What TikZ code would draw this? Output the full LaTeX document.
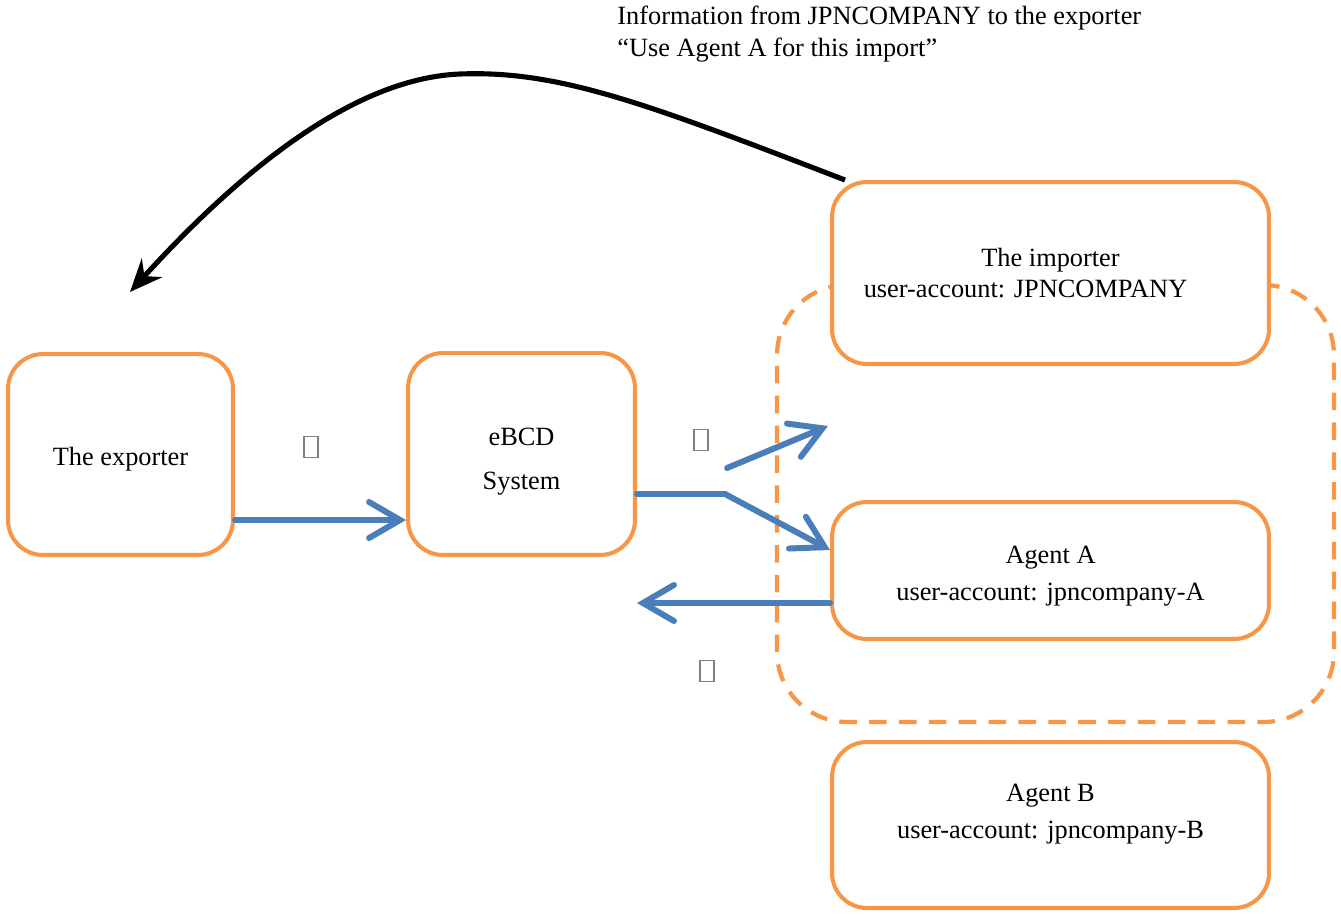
\documentclass[tikz,border=0pt]{standalone}
\usepackage{fontspec}
\setmainfont{Liberation Serif}
\usetikzlibrary{arrows.meta}
\definecolor{boxorange}{HTML}{F79646}
\definecolor{flowblue}{HTML}{4A7EBB}

\begin{document}
\begin{tikzpicture}[x=0.02cm,y=-0.02cm,
  main node/.style={draw=boxorange,line width=2.3pt,rounded corners=0.7cm,fill=white,inner sep=0pt},
  box text/.style={align=center,font=\fontsize{15}{18}\selectfont},
  group node/.style={draw=boxorange,line width=2.4pt,dash pattern=on 10pt off 7pt,rounded corners=1.4cm,inner sep=0pt},
  flow/.style={draw=flowblue,line width=3.4pt,line cap=round,-{Straight Barb[length=0.62cm,width=0.72cm,line cap=round]}},
  info/.style={draw=black,line width=2.9pt,-{Stealth[length=0.65cm,width=0.55cm,inset=0.22cm]}},
  mark box/.style={draw=gray,line width=0.6pt,minimum width=0.28cm,minimum height=0.42cm,inner sep=0pt}]
    \useasboundingbox (0,0) rectangle (1341,914);

    % the importer's side
    \node[group node, minimum width=11.14cm, minimum height=8.74cm] (group) at (1055.5,503.5) {};

    \node[main node, minimum width=4.5cm, minimum height=4.02cm] (exporter) at (120.5,454.5) {};
    \node[main node, minimum width=4.54cm, minimum height=4.04cm] (ebcd) at (521.5,454) {};
    \node[main node, minimum width=8.74cm, minimum height=3.64cm] (importer) at (1050.5,273) {};
    \node[main node, minimum width=8.74cm, minimum height=2.74cm] (agentA) at (1050.5,570.5) {};
    \node[main node, minimum width=8.74cm, minimum height=3.32cm] (agentB) at (1050.5,825) {};

    \node[box text] (exportertext) at ([yshift=-0.1cm]exporter.center) {The exporter};
    \node[box text] (ebcdtext) at ([yshift=-0.16cm]ebcd.center) {eBCD\\[7pt]System};
    \node[box text] (importertext) at (importer.center) {The importer\\user-account: JPNCOMPANY\hspace*{1cm}};
    \node[box text] (agentAtext) at ([yshift=-0.12cm]agentA.center) {Agent A\\[3pt]user-account: jpncompany-A};
    \node[box text] (agentBtext) at ([yshift=0.22cm]agentB.center) {Agent B\\[3pt]user-account: jpncompany-B};

    \node[anchor=north west, align=left, inner sep=0pt, font=\fontsize{15}{18}\selectfont] (message) at (617,6) {Information from JPNCOMPANY to the exporter\\``Use Agent A for this import''};

    \node[mark box] (mark1) at (311,447) {};
    \node[mark box] (mark2) at (701,440) {};
    \node[mark box] (mark3) at (707,671) {};

    \coordinate (fork) at (725,494);
    \coordinate (upstart) at (727,468);
    \coordinate (upend) at (828,426);
    \coordinate (peak) at (460,74);
    \coordinate (tip) at (130,292);

    % flows
    \draw[flow] (exporter.east |- 0,520) -- (ebcd.west |- 0,520);
    \draw[flow, -] (ebcd.east |- fork) -- (fork);
    \draw[flow] (fork) -- (agentA.west |- 0,550);
    \draw[flow] (upstart) -- (upend);
    \draw[flow] (agentA.west |- 0,603) -- (ebcd.east |- 0,603);

    \draw[info] ([xshift=0.3cm]importer.north west) .. controls (650,105) and (560,70) .. (peak)
        .. controls (360,78) and (250,160) .. (tip);
\end{tikzpicture}
\end{document}
